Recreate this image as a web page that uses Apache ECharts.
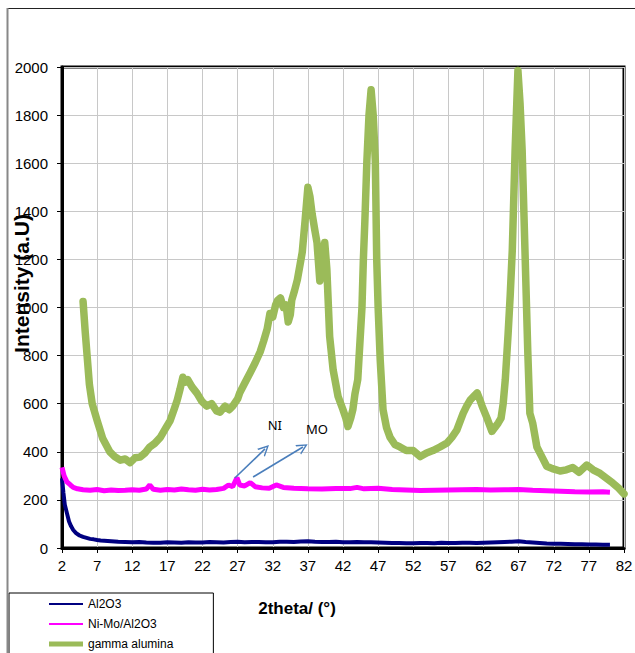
<!DOCTYPE html>
<html><head><meta charset="utf-8">
<script src="https://cdn.jsdelivr.net/npm/echarts@6/dist/echarts.min.js"></script>
<style>html,body{margin:0;padding:0;background:#fff}#c{width:635px;height:653px}</style>
</head><body><div id="c"></div>
<script>
// ---- data ----
const seriesNames = ['Al2O3', 'Ni-Mo/Al2O3', 'gamma alumina'];
const xMin = 2, xMax = 82, xStep = 5;
const yMin = 0, yMax = 2000, yStep = 200;

const al2o3 = [[2.0,290],[2.2,230],[2.4,180],[2.7,145],[3.0,110],[3.3,90],[3.6,75],[4.0,62],[4.5,52],[5.0,46],[5.5,42],[6,38],[6.5,36],[7,33],[7.5,31],[8,30],[9,28],[10,26],[11,25],[12,24],[13,25],[14,23],[15,22],[16,22],[17,24],[18,23],[19,22],[20,24],[21,23],[22,23],[23,25],[24,24],[25,23],[26,25],[27,26],[28,24],[29,25],[30,25],[31,24],[32,24],[33,26],[34,26],[35,25],[36,27],[37,28],[38,26],[39,25],[40,25],[41,26],[42,24],[43,24],[44,25],[45,24],[46,24],[47,23],[48,22],[49,21],[50,21],[51,20],[52,20],[53,21],[54,21],[55,20],[56,22],[57,21],[58,21],[59,22],[60,22],[61,21],[62,22],[63,23],[64,24],[65,25],[66,26],[67,28],[68,25],[69,23],[70,21],[71,19],[72,18],[73,18],[74,17],[75,16],[76,16],[77,15],[78,15],[79,14],[80,14]];

const niMo = [[2.0,335],[2.3,300],[2.7,275],[3.2,262],[3.6,252],[4.2,246],[5,242],[6,240],[7,243],[8,238],[9,241],[10,239],[11,240],[12,242],[13,240],[14,245],[14.5,262],[15,244],[16,240],[17,243],[18,241],[19,245],[20,242],[21,240],[22,244],[23,241],[24,243],[25,248],[25.7,262],[26.3,255],[26.9,292],[27.3,262],[28,258],[28.8,272],[29.5,255],[30.5,250],[31.5,248],[32.5,262],[33.5,252],[35,248],[37,246],[39,245],[41,247],[43,247],[44,252],[45,246],[47,248],[49,243],[51,241],[53,239],[55,240],[57,241],[59,242],[61,243],[63,241],[65,242],[67,243],[69,240],[71,238],[73,236],[75,234],[77,233],[79,234],[80,232]];

const gamma = [[5.0,1025],[5.3,900],[5.6,790],[5.9,680],[6.3,600],[7.0,530],[7.8,455],[8.8,400],[9.5,380],[10.3,365],[11.0,370],[11.7,355],[12.4,375],[13.1,378],[13.8,395],[14.5,420],[15.2,435],[16.0,460],[16.7,495],[17.4,530],[18.0,580],[18.4,615],[18.8,660],[19.2,710],[19.6,690],[19.9,700],[20.5,670],[21.2,644],[21.9,610],[22.6,590],[23.3,600],[24.0,570],[24.5,565],[25.2,590],[25.8,575],[26.3,590],[27.0,620],[27.3,645],[28.0,685],[28.8,730],[29.5,770],[30.2,815],[30.7,860],[31.2,910],[31.6,975],[32.0,960],[32.4,1010],[32.7,1030],[33.1,1040],[33.5,1000],[33.9,1010],[34.2,940],[34.5,970],[34.7,1030],[35.1,1070],[35.5,1115],[35.9,1180],[36.2,1230],[36.6,1360],[37.0,1500],[37.3,1460],[37.6,1390],[38.0,1320],[38.3,1270],[38.7,1110],[39.1,1200],[39.4,1270],[39.7,1160],[40.1,880],[40.6,740],[41.3,630],[42.0,575],[42.4,540],[42.7,505],[43.1,540],[43.4,575],[43.7,640],[44.1,700],[44.4,850],[44.7,1000],[44.9,1200],[45.1,1350],[45.4,1610],[45.7,1800],[46.0,1905],[46.3,1800],[46.6,1610],[46.8,1200],[47.0,1000],[47.3,780],[47.7,575],[48.2,500],[48.7,460],[49.4,430],[50.1,420],[51.0,405],[52.0,405],[53.0,380],[53.9,395],[54.8,405],[55.8,420],[56.8,437],[57.5,460],[58.2,490],[59.1,560],[59.6,590],[60.1,615],[60.6,630],[61.1,645],[61.5,615],[61.8,590],[62.5,540],[63.2,485],[63.6,500],[64.1,520],[64.5,540],[64.8,600],[65.1,700],[65.5,890],[65.8,1050],[66.1,1240],[66.5,1655],[66.9,1985],[67.2,1850],[67.5,1655],[67.9,1240],[68.3,820],[68.6,560],[69.0,520],[69.6,420],[70.3,380],[71.0,340],[71.8,330],[72.9,320],[73.8,325],[74.7,335],[75.6,315],[76.7,345],[77.6,325],[78.6,310],[79.5,290],[80.4,270],[81.2,250],[82,225]];

const peakLabels = ['NI', 'MO'];
const peakArrowFrom = [[26.6,291],[29.2,295]];
const peakArrowTo = [[30.9,412],[36.3,420]];
const peakLabelAt = [[32.3,511],[38.3,495]];

// ---- chart ----
const FONT = 'Liberation Sans, Arial, sans-serif';
const chart = echarts.init(document.getElementById('c'), null, {renderer: 'svg'});

const iconThin = 'path://M0,0h0.05v0.05h-0.05z M0,4h34v2h-34z M33.95,9.95h0.05v0.05h-0.05z';
const iconThick = 'path://M0,0h0.05v0.05h-0.05z M0,2.5h34v5h-34z M33.95,9.95h0.05v0.05h-0.05z';
const openArrow = 'path://M0,10 L5,0 L10,10 L8.6,10 L5,2.8 L1.4,10 Z';

chart.setOption({
  animation: false,
  backgroundColor: '#fff',
  textStyle: {fontFamily: FONT},
  grid: {left: 62, right: 11, top: 67, bottom: 105, show: true, borderColor: '#000', borderWidth: 3, containLabel: false, outerBoundsMode: 'none'},
  legend: {
    orient: 'vertical', left: 9, top: 593, height: 80, width: 200,
    padding: [5, 40, 20, 40],
    itemWidth: 34, itemHeight: 10, itemGap: 8,
    borderColor: '#000', borderWidth: 1,
    selectedMode: false,
    textStyle: {fontFamily: FONT, fontSize: 12, color: '#000', lineHeight: 12},
    data: [
      {name: seriesNames[0], icon: iconThin},
      {name: seriesNames[1], icon: iconThin},
      {name: seriesNames[2], icon: iconThick}
    ]
  },
  xAxis: {
    type: 'value', min: xMin, max: xMax, interval: xStep,
    name: '2theta/ (°)', nameLocation: 'middle', nameGap: 52, nameMoveOverlap: false,
    nameTextStyle: {fontFamily: FONT, fontSize: 17, fontWeight: 'bold', color: '#000', padding: [0, 92, 0, 0]},
    axisLine: {lineStyle: {color: '#000', width: 3}},
    axisTick: {show: true, length: 5, lineStyle: {color: '#000', width: 1}},
    axisLabel: {color: '#000', fontSize: 15, margin: 10, fontFamily: FONT, formatter: v => String(v)},
    splitLine: {show: true, lineStyle: {color: '#c8c8c8', width: 1}}
  },
  yAxis: {
    type: 'value', min: yMin, max: yMax, interval: yStep,
    name: 'Intensity (a.U)', nameLocation: 'middle', nameGap: 30, nameRotate: 90, nameMoveOverlap: false,
    nameTextStyle: {fontFamily: FONT, fontSize: 21, fontWeight: 'bold', color: '#000', padding: [0, 0, 0, 48]},
    axisLine: {lineStyle: {color: '#000', width: 3}},
    axisTick: {show: true, length: 5, lineStyle: {color: '#000', width: 1}},
    axisLabel: {color: '#000', fontSize: 15, margin: 14, fontFamily: FONT, formatter: v => String(v)},
    splitLine: {show: true, lineStyle: {color: '#c8c8c8', width: 1}}
  },
  graphic: [
    {type: 'line', shape: {x1: 7, y1: 8.5, x2: 640, y2: 8.5}, style: {stroke: '#222', lineWidth: 1}, z: 100},
    {type: 'line', shape: {x1: 7.5, y1: 8, x2: 7.5, y2: 660}, style: {stroke: '#888', lineWidth: 2}, z: 100}
  ],
  series: [
    {
      name: seriesNames[0], type: 'line', data: al2o3, symbol: 'none', z: 2,
      lineStyle: {color: '#000080', width: 4}, itemStyle: {color: '#000080'}
    },
    {
      name: seriesNames[1], type: 'line', data: niMo, symbol: 'none', z: 3,
      lineStyle: {color: '#ff00ff', width: 5}, itemStyle: {color: '#ff00ff'},
      markLine: {
        silent: true, symbol: ['none', openArrow], symbolSize: 11,
        lineStyle: {color: '#4a7ebb', width: 1.6, type: 'solid'},
        itemStyle: {color: '#4a7ebb'},
        label: {show: false},
        data: peakArrowFrom.map((f, i) => [{coord: f}, {coord: peakArrowTo[i]}])
      },
      markPoint: {
        silent: true, symbol: 'circle', symbolSize: 0,
        label: {show: true, position: 'inside', color: '#000', fontSize: 13, fontFamily: 'Noto Sans, sans-serif', formatter: p => p.name},
        data: peakLabels.map((t, i) => ({name: t, coord: peakLabelAt[i]}))
      }
    },
    {
      name: seriesNames[2], type: 'line', data: gamma, symbol: 'none', z: 4,
      lineStyle: {color: '#9bbb59', width: 7.5, join: 'round', cap: 'round'}, itemStyle: {color: '#9bbb59'}
    }
  ]
});
</script></body></html>
